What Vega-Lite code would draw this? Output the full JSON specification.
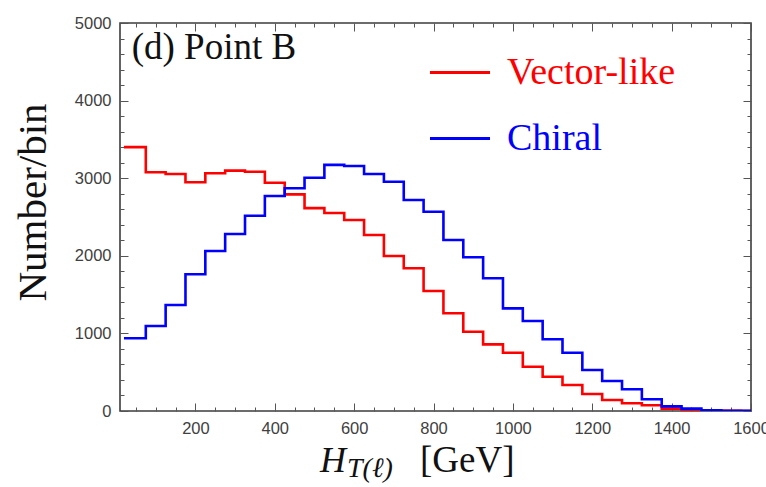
{
  "$schema": "https://vega.github.io/schema/vega-lite/v6.json",
  "width": 631,
  "height": 388,
  "autosize": {"type": "none"},
  "padding": {"left": 120, "top": 23, "right": 15, "bottom": 76},
  "background": "white",
  "config": {
    "view": {"stroke": "#3c3c3c", "strokeWidth": 1.6},
    "axis": {"domain": false, "ticks": false}
  },
  "resolve": {"axis": {"x": "independent", "y": "independent"}},
  "layer": [
    {
      "data": {
        "values": [
          {"series": "Vector-like", "edge": 20, "count": 3400},
          {"series": "Vector-like", "edge": 75, "count": 3076},
          {"series": "Vector-like", "edge": 125, "count": 3054},
          {"series": "Vector-like", "edge": 175, "count": 2947},
          {"series": "Vector-like", "edge": 225, "count": 3063},
          {"series": "Vector-like", "edge": 275, "count": 3097},
          {"series": "Vector-like", "edge": 325, "count": 3084},
          {"series": "Vector-like", "edge": 375, "count": 2942},
          {"series": "Vector-like", "edge": 425, "count": 2792},
          {"series": "Vector-like", "edge": 475, "count": 2615},
          {"series": "Vector-like", "edge": 525, "count": 2552},
          {"series": "Vector-like", "edge": 575, "count": 2461},
          {"series": "Vector-like", "edge": 625, "count": 2268},
          {"series": "Vector-like", "edge": 675, "count": 1997},
          {"series": "Vector-like", "edge": 725, "count": 1839},
          {"series": "Vector-like", "edge": 775, "count": 1546},
          {"series": "Vector-like", "edge": 825, "count": 1259},
          {"series": "Vector-like", "edge": 875, "count": 1022},
          {"series": "Vector-like", "edge": 925, "count": 859},
          {"series": "Vector-like", "edge": 975, "count": 751},
          {"series": "Vector-like", "edge": 1025, "count": 571},
          {"series": "Vector-like", "edge": 1075, "count": 442},
          {"series": "Vector-like", "edge": 1125, "count": 335},
          {"series": "Vector-like", "edge": 1175, "count": 219},
          {"series": "Vector-like", "edge": 1225, "count": 142},
          {"series": "Vector-like", "edge": 1275, "count": 99},
          {"series": "Vector-like", "edge": 1325, "count": 75},
          {"series": "Vector-like", "edge": 1375, "count": 30},
          {"series": "Vector-like", "edge": 1425, "count": 13},
          {"series": "Vector-like", "edge": 1475, "count": 5},
          {"series": "Vector-like", "edge": 1525, "count": 2},
          {"series": "Vector-like", "edge": 1575, "count": 0},
          {"series": "Vector-like", "edge": 1600, "count": 0},
          {"series": "Chiral", "edge": 20, "count": 937},
          {"series": "Chiral", "edge": 75, "count": 1095},
          {"series": "Chiral", "edge": 125, "count": 1366},
          {"series": "Chiral", "edge": 175, "count": 1762},
          {"series": "Chiral", "edge": 225, "count": 2062},
          {"series": "Chiral", "edge": 275, "count": 2281},
          {"series": "Chiral", "edge": 325, "count": 2517},
          {"series": "Chiral", "edge": 375, "count": 2771},
          {"series": "Chiral", "edge": 425, "count": 2870},
          {"series": "Chiral", "edge": 475, "count": 3005},
          {"series": "Chiral", "edge": 525, "count": 3172},
          {"series": "Chiral", "edge": 575, "count": 3157},
          {"series": "Chiral", "edge": 625, "count": 3054},
          {"series": "Chiral", "edge": 675, "count": 2955},
          {"series": "Chiral", "edge": 725, "count": 2719},
          {"series": "Chiral", "edge": 775, "count": 2568},
          {"series": "Chiral", "edge": 825, "count": 2204},
          {"series": "Chiral", "edge": 875, "count": 1981},
          {"series": "Chiral", "edge": 925, "count": 1710},
          {"series": "Chiral", "edge": 975, "count": 1323},
          {"series": "Chiral", "edge": 1025, "count": 1160},
          {"series": "Chiral", "edge": 1075, "count": 924},
          {"series": "Chiral", "edge": 1125, "count": 751},
          {"series": "Chiral", "edge": 1175, "count": 528},
          {"series": "Chiral", "edge": 1225, "count": 387},
          {"series": "Chiral", "edge": 1275, "count": 280},
          {"series": "Chiral", "edge": 1325, "count": 151},
          {"series": "Chiral", "edge": 1375, "count": 60},
          {"series": "Chiral", "edge": 1425, "count": 30},
          {"series": "Chiral", "edge": 1475, "count": 8},
          {"series": "Chiral", "edge": 1525, "count": 4},
          {"series": "Chiral", "edge": 1575, "count": 2},
          {"series": "Chiral", "edge": 1600, "count": 2}
        ]
      },
      "mark": {"type": "line", "interpolate": "step-after", "strokeWidth": 2.6, "clip": true},
      "encoding": {
        "x": {
          "field": "edge",
          "type": "quantitative",
          "scale": {"domain": [10, 1600], "nice": false, "zero": false},
          "axis": {
            "orient": "bottom",
            "values": [200, 400, 600, 800, 1000, 1200, 1400, 1600],
            "format": "d",
            "labelPadding": 9,
            "labelFont": "Liberation Sans",
            "labelFontSize": 16.5,
            "labelColor": "#404040",
            "labelFlush": false,
            "labelOverlap": false,
            "grid": true,
            "gridColor": "#555555",
            "gridWidth": 1,
            "gridOpacity": 1,
            "gridDash": [8, 372],
            "title": null
          }
        },
        "y": {
          "field": "count",
          "type": "quantitative",
          "scale": {"domain": [0, 5000], "nice": false},
          "axis": {
            "orient": "left",
            "values": [0, 1000, 2000, 3000, 4000, 5000],
            "format": "d",
            "labelPadding": 9,
            "labelFont": "Liberation Sans",
            "labelFontSize": 16.5,
            "labelColor": "#404040",
            "labelOverlap": false,
            "grid": true,
            "gridColor": "#555555",
            "gridWidth": 1,
            "gridOpacity": 1,
            "gridDash": [8, 615],
            "title": "Number/bin",
            "titleFont": "Liberation Serif",
            "titleFontSize": 41,
            "titleFontWeight": "normal",
            "titleColor": "#111111",
            "titleAngle": -90,
            "titleBaseline": "alphabetic",
            "titleAlign": "center",
            "titleX": -75,
            "titleY": 179
          }
        },
        "color": {
          "field": "series",
          "type": "nominal",
          "scale": {"domain": ["Vector-like", "Chiral"], "range": ["#ff0000", "#0000ff"]},
          "legend": {
            "orient": "none",
            "legendX": 308.5,
            "legendY": 18,
            "title": null,
            "padding": 0,
            "symbolType": "stroke",
            "symbolSize": 3600,
            "symbolStrokeWidth": 3,
            "labelFont": "Liberation Serif",
            "labelFontSize": 38,
            "labelOffset": 15.5,
            "rowPadding": 15,
            "labelLimit": 400,
            "encode": {
              "labels": {"update": {"fill": {"scale": "color", "field": "value"}}}
            }
          }
        }
      }
    },
    {
      "data": {"values": [{"label": "(d) Point B"}]},
      "mark": {"type": "text", "align": "left", "baseline": "alphabetic", "font": "Liberation Serif", "fontSize": 37, "color": "#111111"},
      "encoding": {
        "text": {"field": "label"},
        "x": {
          "datum": 39.5,
          "type": "quantitative",
          "axis": {
            "orient": "bottom",
            "values": [50, 100, 150, 250, 300, 350, 450, 500, 550, 650, 700, 750, 850, 900, 950, 1050, 1100, 1150, 1250, 1300, 1350, 1450, 1500, 1550],
            "labels": false,
            "grid": true,
            "gridColor": "#555555",
            "gridWidth": 1,
            "gridOpacity": 1,
            "gridDash": [4, 380],
            "title": null
          }
        },
        "y": {
          "datum": 4532,
          "type": "quantitative",
          "axis": {
            "orient": "left",
            "values": [200, 400, 600, 800, 1200, 1400, 1600, 1800, 2200, 2400, 2600, 2800, 3200, 3400, 3600, 3800, 4200, 4400, 4600, 4800],
            "labels": false,
            "grid": true,
            "gridColor": "#555555",
            "gridWidth": 1,
            "gridOpacity": 1,
            "gridDash": [4, 623],
            "title": null
          }
        }
      }
    },
    {
      "data": {"values": [{"label": "H"}]},
      "mark": {"type": "text", "align": "left", "baseline": "alphabetic", "font": "Liberation Serif", "fontStyle": "italic", "fontSize": 36, "color": "#111111"},
      "encoding": {
        "text": {"field": "label"},
        "x": {"datum": 514, "type": "quantitative", "axis": null},
        "y": {"datum": -790, "type": "quantitative", "axis": null}
      }
    },
    {
      "data": {"values": [{"label": "T(ℓ)"}]},
      "mark": {"type": "text", "align": "left", "baseline": "alphabetic", "font": "Liberation Serif", "fontStyle": "italic", "fontSize": 28, "color": "#111111"},
      "encoding": {
        "text": {"field": "label"},
        "x": {"datum": 582, "type": "quantitative", "axis": null},
        "y": {"datum": -847, "type": "quantitative", "axis": null}
      }
    },
    {
      "data": {"values": [{"label": "[GeV]"}]},
      "mark": {"type": "text", "align": "left", "baseline": "alphabetic", "font": "Liberation Serif", "fontSize": 37, "color": "#111111"},
      "encoding": {
        "text": {"field": "label"},
        "x": {"datum": 766, "type": "quantitative", "axis": null},
        "y": {"datum": -790, "type": "quantitative", "axis": null}
      }
    }
  ]
}
